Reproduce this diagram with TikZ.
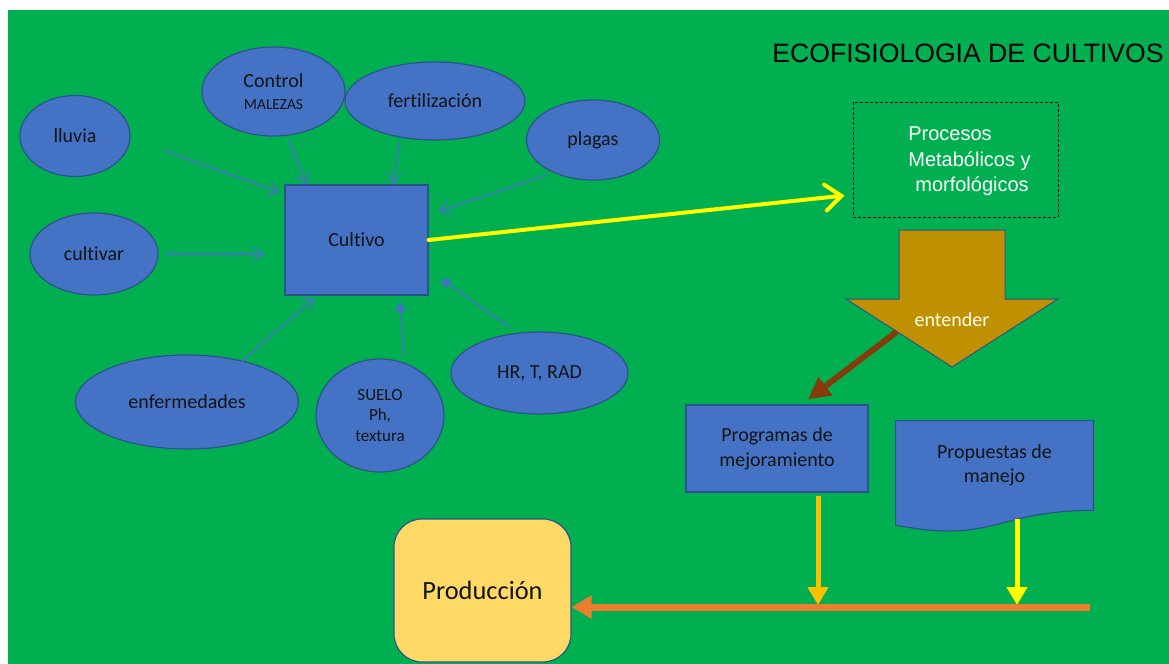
\documentclass[tikz,border=0pt]{standalone}
\usepackage{fontspec}
\usepackage{tikz}
\usetikzlibrary{positioning}
\usetikzlibrary{arrows.meta}
\usetikzlibrary{shapes}
\usetikzlibrary{calc}
\usetikzlibrary{backgrounds}
\setmainfont{Carlito}[Ligatures=NoCommon]
\newfontfamily\arial{Liberation Sans}
\definecolor{fondo}{HTML}{00B050}
\definecolor{azul}{HTML}{4472C4}
\definecolor{borde}{HTML}{2F528F}
\definecolor{dorado}{HTML}{BF9000}
\definecolor{cafe}{HTML}{843C0C}
\definecolor{naranja}{HTML}{ED7D31}
\definecolor{ambar}{HTML}{FFC000}
\definecolor{amarillo}{HTML}{FFFF00}
\definecolor{crema}{HTML}{FFD966}
\definecolor{tinta}{HTML}{141414}

\begin{document}
\begin{tikzpicture}[x=0.5pt, y=-0.5pt,
	elipse/.style={ellipse, draw=borde, fill=azul, line width=0.6pt, inner sep=0pt,
		text=tinta, font=\fontsize{10}{12}\selectfont, align=center},
	caja/.style={rectangle, draw=borde, fill=azul, line width=0.6pt, inner sep=0pt,
		text=tinta, font=\fontsize{10}{12.5}\selectfont, align=center},
	flecha/.style={azul, line width=0.75pt, -{Straight Barb[length=5pt, width=7pt]}},
	flechallena/.style={azul, line width=0.75pt, -{Triangle[length=5pt, width=5.5pt]}},
	bajada/.style={line width=2.5pt, -{Triangle[length=9pt, width=10pt]}}]
	\useasboundingbox (0,0) rectangle (1169,664);
	\begin{scope}[on background layer]
	  \fill[white] (0,0) rectangle (1169,664);
	  \fill[fondo] (8,10) rectangle (1169,664);
	\end{scope}

	\node[font=\arial\fontsize{13.3}{16}\selectfont] (titulo) at (968,53) {ECOFISIOLOGIA DE CULTIVOS};

	% factores alrededor del cultivo
	\node[caja, minimum width=71.5pt, minimum height=55pt] (cultivo) at (356.5,240) {Cultivo};
	\node[elipse, minimum width=55pt, minimum height=40.5pt] (lluvia) at (75,136) {lluvia};
	\node[elipse, minimum width=71.5pt, minimum height=44.5pt] (control) at (273.5,91.5)
		{Control\\[-1pt]{\fontsize{7.7}{9}\selectfont MALEZAS}};
	\node[elipse, minimum width=90pt, minimum height=39pt] (fertilizacion) at (435,101) {fertilización};
	\node[elipse, minimum width=66.5pt, minimum height=40pt] (plagas) at (593,140) {plagas};
	\node[elipse, minimum width=64pt, minimum height=41pt] (cultivar) at (94,254) {cultivar};
	\node[elipse, minimum width=111.5pt, minimum height=47pt] (enfermedades) at (187,402) {enfermedades};
	\node[elipse, minimum width=64pt, minimum height=56.5pt, font=\fontsize{8.5}{10.25}\selectfont]
		(suelo) at (380,415.5) {SUELO\\Ph,\\textura};
	\node[elipse, minimum width=88.5pt, minimum height=41pt] (clima) at (539.5,373) {HR, T, RAD};

	\draw[flecha] ([shift={(35,15)}]lluvia.east) -- ([shift={(-5,8)}]cultivo.north west);
	\draw[flecha] ([shift={(15,4)}]control.south) -- ([shift={(22,0)}]cultivo.north west);
	\draw[flecha] ([shift={(-35,0)}]fertilizacion.south) -- ([shift={(-36,0)}]cultivo.north east);
	\draw[flecha] ([shift={(-45,-6)}]plagas.south) -- ([shift={(10,27)}]cultivo.north east);
	\draw[flecha] ([shift={(7,0)}]cultivar.east) -- ([shift={(-20,14)}]cultivo.west);
	\draw[flecha] ([shift={(55,7)}]enfermedades.north) -- ([shift={(30,2)}]cultivo.south west);
	\draw[flechallena] ([shift={(24,-2)}]suelo.north) -- ([shift={(43.5,6)}]cultivo.south);
	\draw[flechallena] ([shift={(-30,-4)}]clima.north) -- ([shift={(12,-17)}]cultivo.south east);

	% procesos
	\node[draw=black, dashed, dash pattern=on 1.5pt off 1pt, line width=0.5pt,
		minimum width=102.5pt, minimum height=57.5pt] (procesos) at (955.5,159.5) {};
	\node[text=white, align=left, font=\arial\fontsize{10}{12.75}\selectfont]
		(procesos-texto) at ([shift={(14,2)}]procesos.center)
		{Procesos\\Metabólicos y\\\hspace*{3.5pt}morfológicos};
	\draw[amarillo, line width=2pt, line cap=round,
		-{Straight Barb[length=8pt, width=13pt, line cap=round]}]
		(cultivo.east) -- ([shift={(-8,36)}]procesos.west);

	% flecha grande
	\coordinate (ala) at (846,299);
	\coordinate (punta) at (952,367);
	\filldraw[fill=dorado, draw=borde, line width=0.5pt]
		(899,230) -- (1005,230) -- (1005,299) -- (1058,299) -- (punta) -- (ala) -- (899,299) -- cycle;
	\node[text=white!92!yellow, font=\fontsize{10}{12}\selectfont] (entender) at (952,320) {entender};

	% salidas
	\node[caja, minimum width=91pt, minimum height=43.5pt] (programas) at (777,448.5)
		{Programas de\\mejoramiento};
	\node[inner sep=0pt, text=tinta, font=\fontsize{10}{12}\selectfont, align=center,
		minimum width=98.5pt, minimum height=44.5pt] (propuestas) at (994.5,465.5)
		{Propuestas de\\manejo};
	\begin{scope}[on background layer]
	  \filldraw[fill=azul, draw=borde, line width=0.6pt]
		(propuestas.north west) -- (propuestas.north east) -- (propuestas.south east)
		.. controls (propuestas.south) and ([shift={(0,34)}]propuestas.south)
		.. ([shift={(0,14.7)}]propuestas.south west) -- cycle;
	\end{scope}
	\draw[cafe, line width=3pt, -{Triangle[length=11pt, width=11pt]}]
		($(ala)!0.48!(punta)$) -- ([shift={(31,-5)}]programas.north);

	\node[rectangle, rounded corners=14pt, draw=borde, fill=crema, line width=0.6pt,
		minimum width=88.5pt, minimum height=71.5pt, text=tinta,
		font=\fontsize{13.2}{16}\selectfont] (produccion) at (482.5,590.5) {Producción};

	\coordinate (linea-fin) at (1090,607);
	\coordinate (sal-programas) at ([shift={(41,3)}]programas.south);
	\coordinate (sal-propuestas) at ([shift={(22.5,9)}]propuestas.south);
	\draw[ambar, bajada] (sal-programas) -- ([shift={(0,-2)}]sal-programas |- linea-fin);
	\draw[amarillo, bajada] (sal-propuestas) -- ([shift={(0,-2)}]sal-propuestas |- linea-fin);
	\draw[naranja, line width=3.5pt, -{Triangle[length=10pt, width=11pt]}]
		(linea-fin) -- (produccion.east |- linea-fin);
\end{tikzpicture}
\end{document}
